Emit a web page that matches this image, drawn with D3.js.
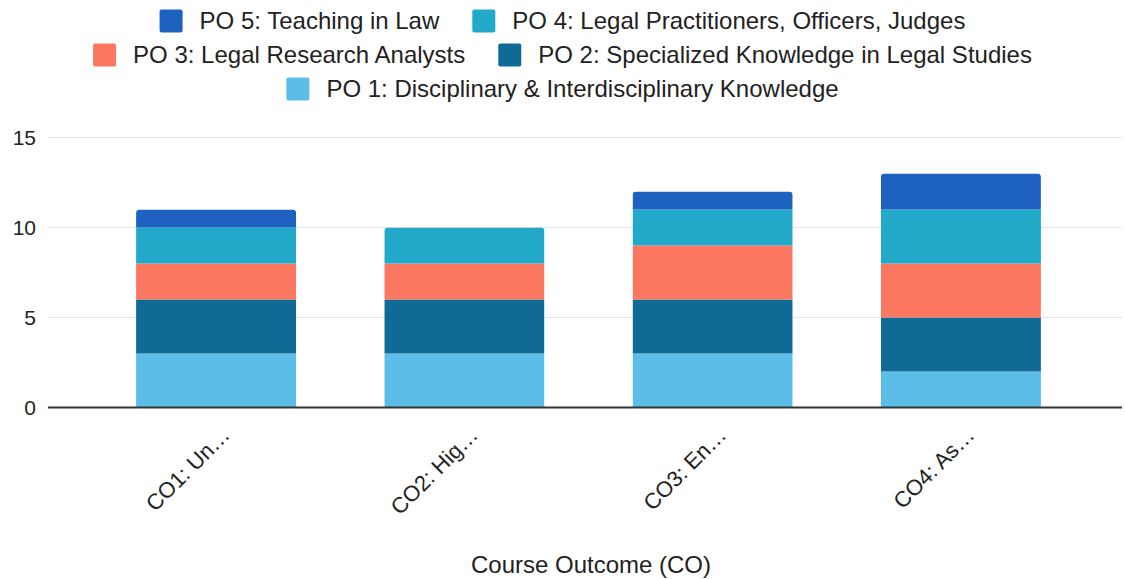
<!DOCTYPE html>
<html>
<head>
<meta charset="utf-8">
<script src="https://cdn.jsdelivr.net/npm/d3@7"></script>
<style>
  html, body { margin: 0; padding: 0; background: #fff; }
  svg { display: block; font-family: "Liberation Sans", Arial, sans-serif; }
</style>
</head>
<body>
<svg id="chart" width="1125" height="579"></svg>
<script>
// Course outcomes (x categories)
const categories = ["CO1: Un…", "CO2: Hig…", "CO3: En…", "CO4: As…"];

// Programme outcome contributions per course outcome (stack order bottom → top)
const po1 = [3, 3, 3, 2];
const po2 = [3, 3, 3, 3];
const po3 = [2, 2, 3, 3];
const po4 = [2, 2, 2, 3];
const po5 = [1, 0, 1, 2];

const seriesNames = [
  "PO 1: Disciplinary & Interdisciplinary Knowledge",
  "PO 2: Specialized Knowledge in Legal Studies",
  "PO 3: Legal Research Analysts",
  "PO 4: Legal Practitioners, Officers, Judges",
  "PO 5: Teaching in Law"
];
const seriesColors = ["#5dbde9", "#0f6b96", "#fb775f", "#22a8c8", "#1d62c0"];
const yTicks = [0, 5, 10, 15];
const xTitle = "Course Outcome (CO)";

const seriesValues = [po1, po2, po3, po4, po5];
const table = categories.map((c, i) => {
  const row = { category: c };
  seriesNames.forEach((n, s) => { row[n] = seriesValues[s][i]; });
  return row;
});

const svg = d3.select("#chart");
const x = d3.scaleBand().domain(categories).range([92, 1085]).paddingInner(0.355).paddingOuter(0.1775);
const y = d3.scaleLinear().domain([0, 15]).range([407.5, 137.5]);

// gridlines
svg.append("g")
  .selectAll("line")
  .data(yTicks.filter(t => t > 0))
  .join("line")
  .attr("x1", 48).attr("x2", 1122)
  .attr("y1", d => y(d)).attr("y2", d => y(d))
  .attr("stroke", "#e2e4ea").attr("stroke-width", 1);

// y axis labels
const yAxis = d3.axisLeft(y).tickValues(yTicks).tickSize(0).tickPadding(0);
svg.append("g")
  .attr("transform", "translate(36,0)")
  .call(yAxis)
  .call(g => g.select(".domain").remove())
  .call(g => g.selectAll("text")
    .attr("font-size", 21).attr("fill", "#222")
    .attr("font-family", "'Liberation Sans', Arial, sans-serif"));

// stacked bars
const stack = d3.stack().keys(seriesNames);
const layers = stack(table);

const defs = svg.append("defs");
categories.forEach((c, i) => {
  const total = seriesValues.reduce((a, s) => a + s[i], 0);
  defs.append("clipPath").attr("id", "clip" + i)
    .append("rect")
    .attr("x", x(c)).attr("width", x.bandwidth())
    .attr("y", y(total)).attr("height", y(0) - y(total) + 10)
    .attr("rx", 4).attr("ry", 4);
});

const barsG = svg.append("g");
layers.forEach((layer, s) => {
  barsG.append("g")
    .attr("fill", seriesColors[s])
    .selectAll("rect")
    .data(layer.map((d, i) => ({ d, i })))
    .join("rect")
    .attr("clip-path", p => `url(#clip${p.i})`)
    .attr("x", p => x(p.d.data.category))
    .attr("width", x.bandwidth())
    .attr("y", p => y(p.d[1]))
    .attr("height", p => Math.max(0, y(p.d[0]) - y(p.d[1])));
});

// baseline
svg.append("line")
  .attr("x1", 48).attr("x2", 1122)
  .attr("y1", y(0)).attr("y2", y(0))
  .attr("stroke", "#333").attr("stroke-width", 2);

// x axis labels
const xAxis = d3.axisBottom(x).tickSize(0).tickPadding(0);
svg.append("g")
  .attr("transform", `translate(0,${y(0)})`)
  .call(xAxis)
  .call(g => g.select(".domain").remove())
  .call(g => g.selectAll("text")
    .attr("font-size", 22).attr("fill", "#222")
    .attr("font-family", "'Liberation Sans', Arial, sans-serif")
    .attr("text-anchor", "end")
    .attr("dy", null).attr("y", 0)
    .attr("transform", "translate(15,29) rotate(-45)"));

// x axis title
svg.append("text")
  .attr("x", 591).attr("y", 573)
  .attr("text-anchor", "middle")
  .attr("font-size", 24).attr("fill", "#222")
  .text(xTitle);

// legend rows
const legendRows = [
  [4, 3],
  [2, 1],
  [0]
];
const rowY = [21, 55, 89];
const swatch = 23, gapSw = 17, gapItems = 33;
legendRows.forEach((row, r) => {
  const g = svg.append("g");
  let cx = 0;
  row.forEach(s => {
    const item = g.append("g").attr("transform", `translate(${cx},0)`);
    item.append("rect").attr("x", 0).attr("y", rowY[r] - swatch / 2)
      .attr("width", swatch).attr("height", swatch).attr("rx", 2)
      .attr("fill", seriesColors[s]);
    const t = item.append("text").attr("x", swatch + gapSw).attr("y", rowY[r])
      .attr("dy", "0.35em").attr("font-size", 24).attr("fill", "#222")
      .text(seriesNames[s]);
    cx += swatch + gapSw + t.node().getComputedTextLength() + gapItems;
  });
  const w = cx - gapItems;
  g.attr("transform", `translate(${(1125 - w) / 2},0)`);
});
</script>
</body>
</html>
